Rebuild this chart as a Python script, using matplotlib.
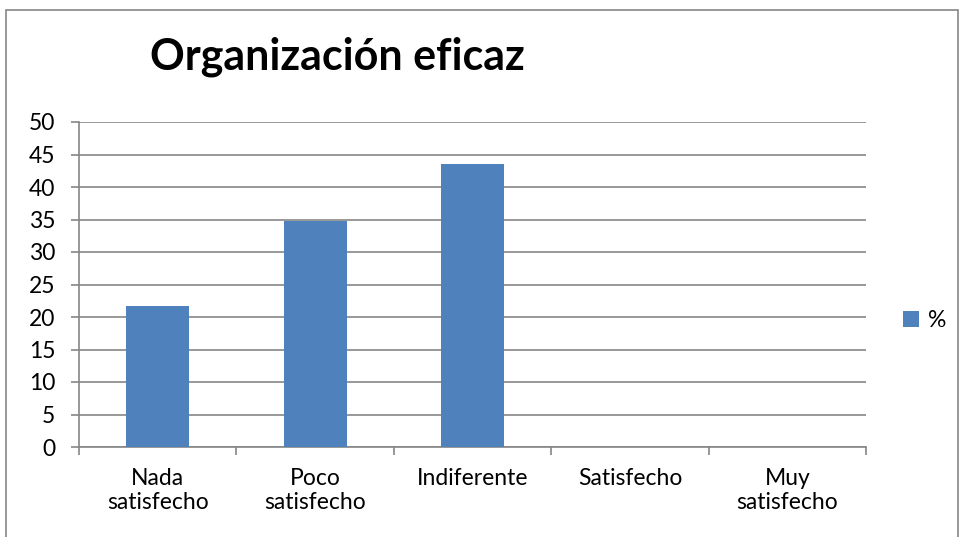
import numpy as np
import matplotlib.pyplot as plt
from matplotlib.patches import Rectangle

# --- data ---
categories = ["Nada\nsatisfecho", "Poco\nsatisfecho", "Indiferente", "Satisfecho", "Muy\nsatisfecho"]
percent = [21.74, 34.78, 43.48, 0, 0]
series_name = "%"
title = "Organización eficaz"

plt.rcParams['font.family'] = ['Lato', 'DejaVu Sans']

W, H = 961, 537
fig = plt.figure(figsize=(W / 100, H / 100), dpi=100)

# outer chart frame (gray)
frame = Rectangle((6 / W, -0.05), 952 / W, 1.05 - 10 / H, transform=fig.transFigure,
                  fill=False, ec='#868686', lw=1.2)
fig.patches.append(frame)

ax = fig.add_axes([79 / W, 1 - 447 / H, (866 - 79) / W, (447 - 122) / H])
grid_c = '#868686'
x = np.arange(len(categories))
ax.bar(x, percent, width=0.4, color='#4F81BD', label=series_name, zorder=3)

ax.set_xlim(-0.5, len(categories) - 0.5)
ax.set_ylim(0, 50)
ax.set_yticks(np.arange(0, 51, 5))
ax.yaxis.grid(True, color=grid_c, lw=1.2, zorder=0)

for s in ['top', 'right']:
    ax.spines[s].set_visible(False)
for s in ['left', 'bottom']:
    ax.spines[s].set_color(grid_c)
    ax.spines[s].set_linewidth(1.2)

# category labels at centres, tick marks at boundaries
ax.set_xticks(x)
ax.set_xticklabels(categories, fontsize=16.5, linespacing=1.2)
ax.tick_params(axis='x', which='major', length=0, pad=15)
ax.set_xticks(np.arange(-0.5, len(categories)), minor=True)
ax.tick_params(axis='x', which='minor', length=6, color=grid_c, width=1.2)
ax.tick_params(axis='y', length=6, color=grid_c, width=1.2, labelsize=16.5, pad=11)

fig.text(337 / W, 1 - 57 / H, title, fontsize=31, fontweight='bold',
         ha='center', va='center')

ax.legend(loc='center left', bbox_to_anchor=(1.0, 0.39), frameon=False,
          fontsize=16.5, handlelength=0.7, handleheight=0.7, handletextpad=0.4,
          borderaxespad=1.2)

fig.savefig('out.png', dpi=100)
